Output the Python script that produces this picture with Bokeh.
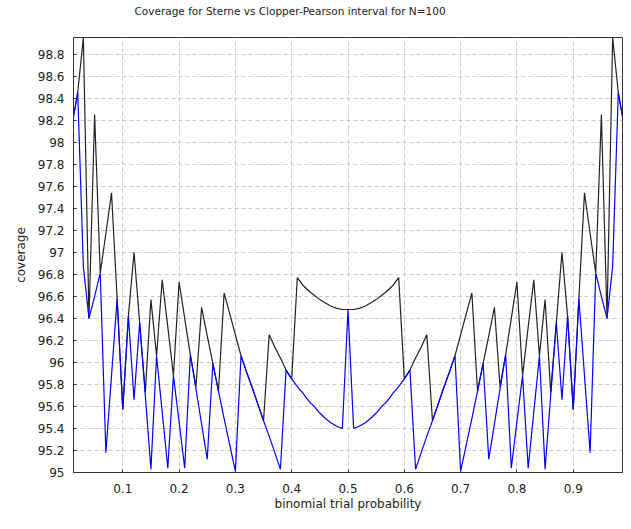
from bokeh.plotting import figure
from bokeh.models import Range1d, FixedTicker, Title
from bokeh.embed import file_html
from bokeh.resources import INLINE

# binomial trial probability grid
p_values = [0.01, 0.02, 0.03, 0.04, 0.05, 0.06, 0.07, 0.08, 0.09, 0.10,
            0.11, 0.12, 0.13, 0.14, 0.15, 0.16, 0.17, 0.18, 0.19, 0.20,
            0.21, 0.22, 0.23, 0.24, 0.25, 0.26, 0.27, 0.28, 0.29, 0.30,
            0.31, 0.32, 0.33, 0.34, 0.35, 0.36, 0.37, 0.38, 0.39, 0.40,
            0.41, 0.42, 0.43, 0.44, 0.45, 0.46, 0.47, 0.48, 0.49, 0.50,
            0.51, 0.52, 0.53, 0.54, 0.55, 0.56, 0.57, 0.58, 0.59, 0.60,
            0.61, 0.62, 0.63, 0.64, 0.65, 0.66, 0.67, 0.68, 0.69, 0.70,
            0.71, 0.72, 0.73, 0.74, 0.75, 0.76, 0.77, 0.78, 0.79, 0.80,
            0.81, 0.82, 0.83, 0.84, 0.85, 0.86, 0.87, 0.88, 0.89, 0.90,
            0.91, 0.92, 0.93, 0.94, 0.95, 0.96, 0.97, 0.98, 0.99]

# coverage (%) of the Clopper-Pearson interval (black)
clopper_pearson = [98.16, 98.45, 98.95, 96.40, 98.25, 96.81, 97.17, 97.54, 96.58, 95.57,
                   96.42, 97.00, 96.36, 95.73, 96.57, 96.06, 96.75, 96.32, 95.88, 96.73,
                   96.40, 96.07, 95.78, 96.50, 96.24, 95.99, 95.74, 96.63, 96.44, 96.25,
                   96.06, 95.91, 95.77, 95.62, 95.47, 96.25, 96.14, 96.04, 95.93, 95.85,
                   96.77, 96.70, 96.65, 96.61, 96.57, 96.54, 96.51, 96.49, 96.48, 96.48,
                   96.48, 96.49, 96.51, 96.54, 96.57, 96.61, 96.65, 96.70, 96.77, 95.85,
                   95.93, 96.04, 96.14, 96.25, 95.47, 95.62, 95.77, 95.91, 96.06, 96.25,
                   96.44, 96.63, 95.74, 95.99, 96.24, 96.50, 95.78, 96.07, 96.40, 96.73,
                   95.88, 96.32, 96.75, 96.06, 96.57, 95.73, 96.36, 97.00, 96.42, 95.57,
                   96.58, 97.54, 97.17, 96.81, 98.25, 96.40, 98.95, 98.45, 98.16]

# coverage (%) of the Sterne interval (blue)
sterne = [98.16, 98.45, 96.87, 96.40, 96.60, 96.81, 95.18, 95.88, 96.58, 95.57,
          96.42, 95.66, 96.36, 95.70, 95.03, 96.06, 95.55, 95.04, 95.88, 95.46,
          95.04, 96.07, 95.76, 95.44, 95.12, 95.99, 95.74, 95.49, 95.25, 95.01,
          96.06, 95.91, 95.77, 95.62, 95.47, 95.33, 95.18, 95.03, 95.93, 95.85,
          95.78, 95.72, 95.65, 95.60, 95.54, 95.49, 95.45, 95.42, 95.40, 96.48,
          95.40, 95.42, 95.45, 95.49, 95.54, 95.60, 95.65, 95.72, 95.78, 95.85,
          95.93, 95.03, 95.18, 95.33, 95.47, 95.62, 95.77, 95.91, 96.06, 95.01,
          95.25, 95.49, 95.74, 95.99, 95.12, 95.44, 95.76, 96.07, 95.04, 95.46,
          95.88, 95.04, 95.55, 96.06, 95.03, 95.70, 96.36, 95.66, 96.42, 95.57,
          96.58, 95.88, 95.18, 96.81, 96.60, 96.40, 96.87, 98.45, 98.16]

title_text = "Coverage for Sterne vs Clopper-Pearson interval for N=100"
x_ticks = [0.1, 0.2, 0.3, 0.4, 0.5, 0.6, 0.7, 0.8, 0.9]
x_tick_labels = ["0.1", "0.2", "0.3", "0.4", "0.5", "0.6", "0.7", "0.8", "0.9"]
y_ticks = [95.0, 95.2, 95.4, 95.6, 95.8, 96.0, 96.2, 96.4, 96.6, 96.8,
           97.0, 97.2, 97.4, 97.6, 97.8, 98.0, 98.2, 98.4, 98.6, 98.8]
y_tick_labels = ["95", "95.2", "95.4", "95.6", "95.8", "96", "96.2", "96.4", "96.6", "96.8",
                 "97", "97.2", "97.4", "97.6", "97.8", "98", "98.2", "98.4", "98.6", "98.8"]

FONT = "DejaVu Sans"
TEXT = "#222222"

p = figure(width=623, height=513, output_backend="svg", toolbar_location=None,
           x_range=Range1d(0.0125, 0.9875), y_range=Range1d(95.0, 98.95),
           title=title_text,
           x_axis_label="binomial trial probability", y_axis_label="coverage",
           min_border_left=73, min_border_right=1, min_border_top=37, min_border_bottom=41)

p.background_fill_color = "white"
p.border_fill_color = "white"
p.outline_line_color = "#333333"
p.outline_line_width = 1

# invisible spacer between the frame and the title
p.add_layout(Title(text=" ", text_font_size="1px", standoff=18), "above")

p.title.text_font = FONT
p.title.text_font_size = "10.5px"
p.title.text_font_style = "normal"
p.title.text_color = TEXT
p.title.align = "left"
p.title.offset = 61
p.title.standoff = 0

for ax, ticks, labels in ((p.xaxis[0], x_ticks, x_tick_labels), (p.yaxis[0], y_ticks, y_tick_labels)):
    ax.ticker = FixedTicker(ticks=ticks, minor_ticks=[])
    ax.major_label_overrides = dict(zip(ticks, labels))
    ax.major_label_text_font = FONT
    ax.major_label_text_font_size = "12px"
    ax.major_label_text_color = TEXT
    ax.axis_label_text_font = FONT
    ax.axis_label_text_font_size = "12px"
    ax.axis_label_text_font_style = "normal"
    ax.axis_label_text_color = TEXT
    ax.axis_line_color = "#333333"
    ax.major_tick_line_color = "#333333"
    ax.major_tick_in = 3
    ax.major_tick_out = 0
    ax.minor_tick_line_color = None

p.xaxis.major_label_standoff = 11
p.xaxis.axis_label_standoff = 1
p.yaxis.major_label_standoff = 9
p.yaxis.axis_label_standoff = 7

for g in (p.xgrid[0], p.ygrid[0]):
    g.grid_line_color = "#c8c8c8"
    g.grid_line_dash = "4 3"
    g.grid_line_width = 1

p.line(p_values, clopper_pearson, line_color="#222222", line_width=1.2)
p.line(p_values, sterne, line_color="#0000ff", line_width=1.2)

open("out.html", "w").write(file_html(p, INLINE))
